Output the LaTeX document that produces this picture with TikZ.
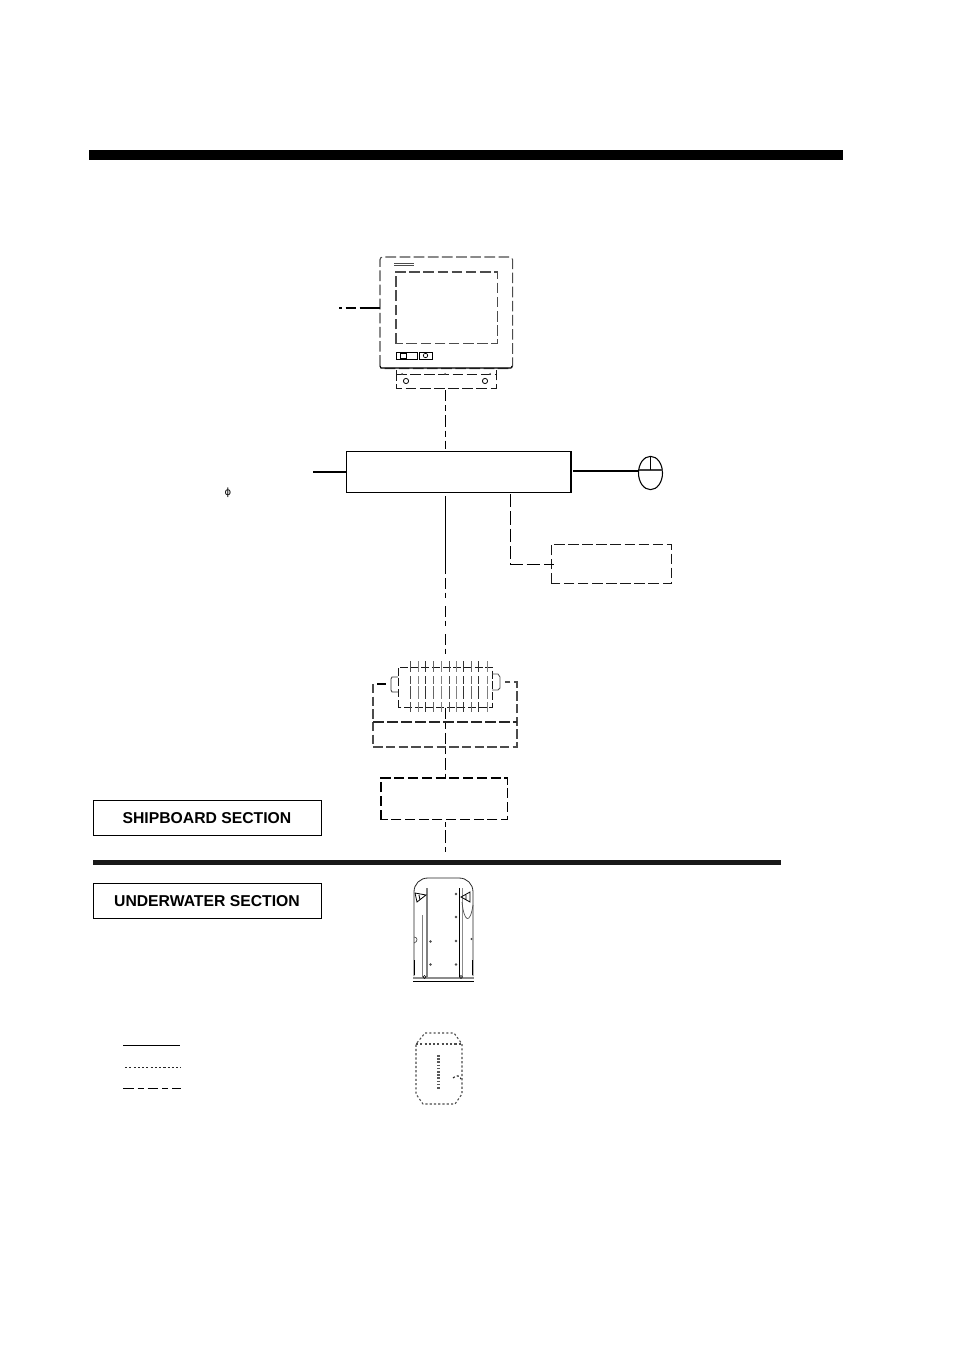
\documentclass[tikz,border=0pt]{standalone}
\usepackage{fontspec}
\usetikzlibrary{shapes.geometric}
\setmainfont{Liberation Sans}
\newfontfamily\symfont{DejaVu Sans}
\tikzset{
 x=0.75pt,y=-0.75pt,
 thinl/.style={line width=0.85pt,black},
 dashl/.style={line width=0.85pt,black,dash pattern=on 8.5pt off 3pt on 4.5pt off 3pt},
 fined/.style={line width=0.75pt,black!90,dash pattern=on 8pt off 2.6pt},
 greyd/.style={line width=0.8pt,black!70,dash pattern=on 8pt off 2.6pt},
 dotl/.style={line width=0.85pt,black!85,dash pattern=on 1.6pt off 1.6pt},
 combl/.style={line width=0.6pt,black!80},
 sectionbox/.style={draw,line width=0.7pt,minimum width=171pt,minimum height=26.5pt,inner sep=0pt,font=\fontsize{11.8pt}{13pt}\selectfont\bfseries},
 blockbox/.style={rectangle,inner sep=0pt},
}
\begin{document}
\begin{tikzpicture}
\useasboundingbox (0,0) rectangle (954,1351);
\coordinate (axis) at (445.5,0);
% top bar and divider
\fill[black] (89,150) rectangle (843,160);
\fill[black!90] (93,860) rectangle (781,865);
% monitor
\node[blockbox,minimum width=99pt,minimum height=83.25pt,anchor=north west] (monitor) at (380,257) {};
\draw[greyd,rounded corners=2pt] (monitor.south west) rectangle (monitor.north east);
\node[blockbox,minimum width=75.75pt,minimum height=53.25pt,anchor=north west] (screen) at (396,272) {};
\draw[greyd] (screen.south west) rectangle (screen.north east);
\draw[line width=0.5pt,black!70] (394,263.5) -- (414,263.5) (394,265.5) -- (414,265.5);
\draw[line width=0.7pt] (396,352) rectangle (417,359) (419,352) rectangle (432,359);
\draw[line width=0.5pt] (400,353.5) rectangle (406,358);
\draw[line width=0.5pt] (425.5,355.5) circle[radius=2.2];
\draw[line width=0.8pt] (380,366) -- (381,368) -- (511,368) -- (512,366);
\coordinate (monitorleft) at (380,308);
\coordinate (stubleft) at (339,308);
\draw[line width=0.85pt,dash pattern=on 2.5pt off 2.5pt on 8pt off 2.5pt on 40pt] (stubleft) -- (monitorleft);
% stand
\node[blockbox,minimum width=75pt,minimum height=13.5pt,anchor=north west] (stand) at (396,370) {};
\draw[fined] (stand.north west) -- (stand.south west) -- (stand.south east) -- (stand.north east);
\draw[fined] (396,375) -- (496,375);
\draw[line width=0.6pt] (406,381) circle[radius=2.6] (485,381) circle[radius=2.6];
\fill[black!70] (402,374) circle[radius=1] (445,374) circle[radius=1] (490,374) circle[radius=1];
% processor
\node[draw,line width=0.85pt,minimum width=168.3pt,minimum height=30.5pt,inner sep=0pt,anchor=north west] (proc) at (346,451) {};
\coordinate (powerend) at (313,472);
\draw[thinl] (powerend) -- (powerend -| proc.west);
\coordinate (standout) at (445.5,390);
\coordinate (procin) at (445.5,449);
\draw[dashl] (standout) -- (procin);
\node[inner sep=0pt,font=\symfont\fontsize{7.5pt}{9pt}\selectfont] (phi) at (228,493) {ϕ};
% mouse
\node[draw,ellipse,line width=0.8pt,minimum width=18pt,minimum height=25pt,inner sep=0pt] (mouse) at (650.5,473) {};
\draw[line width=1.1pt,black!75] (638.5,470) -- (662.5,470);
\draw[line width=0.7pt] (650.5,456) -- (650.5,470);
\coordinate (mousestart) at (573,471);
\draw[thinl] (mousestart) -- (mouse.west |- mousestart);
% printer box
\node[blockbox,minimum width=90pt,minimum height=29.25pt,anchor=north west] (printer) at (551,544) {};
\draw[fined] (printer.south west) rectangle (printer.north east);
\coordinate (procdown) at (510.5,494);
\coordinate (printerin) at (554,564.5);
\draw[line width=0.85pt,dash pattern=on 10pt off 3pt] (procdown) -- (510.5,564.5) -- (printerin);
% processor to terminal
\coordinate (procstart) at (445.5,496);
\coordinate (procsolid) at (445.5,574);
\coordinate (termtop) at (445.5,660);
\draw[thinl] (procstart) -- (procsolid);
\draw[line width=0.85pt,black,dash pattern=on 0pt off 3pt on 8pt off 3pt on 4pt off 3pt] (procsolid) -- (termtop);
% terminal box
\node[blockbox,minimum width=70.5pt,minimum height=30pt,anchor=north west] (term) at (398,667) {};
\draw[fined,dash pattern=on 6pt off 2pt] (term.south west) rectangle (term.north east);
\foreach \xx/\gg in {410/70,418/50,425/80,433/60,441/50,449/70,456/50,463/80,471/60,478/80,487/50}{
  \draw[combl,black!\gg] (\xx,661) -- (\xx,672) (\xx,676) -- (\xx,684);
  \draw[combl,black!\gg] (\xx,686) -- (\xx,699) (\xx,702) -- (\xx,712);
}
\draw[line width=0.6pt,black!80] (398,677) -- (392,677) -- (391,679) -- (391,690) -- (392,692) -- (398,692);
\draw[line width=0.6pt,black!70] (492,674) -- (498,674) -- (500,677) -- (500,688) -- (498,690) -- (492,690);
% terminal enclosure
\draw[greyd,dash pattern=on 7pt off 2.5pt] (373,684) -- (373,747) -- (517,747) -- (517,682) -- (505,682);
\draw[greyd,black!85,dash pattern=on 8pt off 2.5pt] (373,722) -- (517,722);
\coordinate (lugleft) at (377,684);
\coordinate (lugright) at (386,684);
\draw[line width=0.8pt] (lugleft) -- (lugright);
% junction box
\node[blockbox,minimum width=94.5pt,minimum height=30.75pt,anchor=north west] (junction) at (381,778) {};
\draw[line width=0.85pt,dash pattern=on 7.5pt off 2.8pt] (junction.south west) rectangle (junction.north east);
\draw[dashl] (axis |- term.south) -- (axis |- junction.north);
\coordinate (below) at (445.5,852);
\coordinate (junctionout) at (445.5,822);
\draw[line width=0.85pt,dash pattern=on 4pt off 2pt on 10pt off 3pt] (junctionout) -- (below);
% section boxes
\node[sectionbox,anchor=north west] (ship) at (92.5,800) {SHIPBOARD SECTION};
\node[sectionbox,anchor=north west] (under) at (92.5,883) {UNDERWATER SECTION};
% transducer
\node[blockbox,minimum width=46.5pt,minimum height=78pt,anchor=north west] (transducer) at (413,878) {};
\draw[line width=0.6pt,black!85] (414,976) -- (414,892) .. controls (414,884) and (420,878) .. (428,878) -- (459,878) .. controls (467,878) and (473,884) .. (473,892) -- (473,976);
\draw[line width=1.1pt,black!45] (413,978) -- (474,978);
\draw[line width=0.7pt] (413,981.5) -- (474,981.5);
\draw[line width=0.8pt,black!50] (427,888) -- (427,977);
\draw[line width=1pt,black!50] (422.5,915) -- (422.5,977);
\draw[line width=0.8pt] (459.3,888) -- (459.3,977);
\draw[line width=1pt,black!45] (462.5,888) -- (462.5,977);
\draw[line width=0.6pt] (415,893) -- (426,895) -- (417,902) -- cycle (419,895) -- (420,900);
\draw[line width=0.6pt] (470,892) -- (461,897) -- (470,902) -- cycle (466,895) -- (466,900);
\draw[line width=0.5pt,black!70] (462,902) .. controls (464,922) and (470,925) .. (473,905);
\draw[line width=0.5pt,black!70] (414,937) .. controls (418,937) and (418,942) .. (414,943);
\draw[line width=1pt] (414.5,960) -- (414.5,975) (472.5,960) -- (472.5,975);
\fill[black!70] (430.5,941.5) circle[radius=1.4] (430.5,964.5) circle[radius=1.4]
 (456,894) circle[radius=1.4] (456,917) circle[radius=1.4] (456,941) circle[radius=1.4] (456,964.5) circle[radius=1.4] (471.5,939) circle[radius=1.2];
\draw[line width=0.5pt] (424.5,977) circle[radius=1.5] (461,977) circle[radius=1.5];
% matching box
\node[blockbox,minimum width=35.25pt,minimum height=53.25pt,anchor=north west] (tank) at (416,1033) {};
\draw[dotl,black!70,line width=0.8pt] (425,1033) -- (454,1033) -- (462,1044) -- (462,1094) -- (455,1104) -- (423,1104) -- (416,1094) -- (416,1044) -- cycle;
\draw[dotl,black!70,line width=0.8pt] (416,1044) -- (462,1044);
\draw[line width=2.2pt,black!65,dash pattern=on 1.2pt off 1.2pt] (438.5,1055) -- (438.5,1089);
\draw[dotl] (453,1078) .. controls (456,1075) and (460,1075) .. (461,1079);
% legend
\coordinate (leg1a) at (123,1045.5); \coordinate (leg1b) at (180,1045.5);
\coordinate (leg2a) at (125,1067.5); \coordinate (leg2b) at (181,1067.5);
\coordinate (leg3a) at (123,1088.5); \coordinate (leg3b) at (181,1088.5);
\draw[thinl] (leg1a) -- (leg1b);
\draw[dotl] (leg2a) -- (leg2b);
\draw[line width=0.85pt,dash pattern=on 8pt off 3pt on 4.5pt off 3pt] (leg3a) -- (leg3b);
\end{tikzpicture}
\end{document}
